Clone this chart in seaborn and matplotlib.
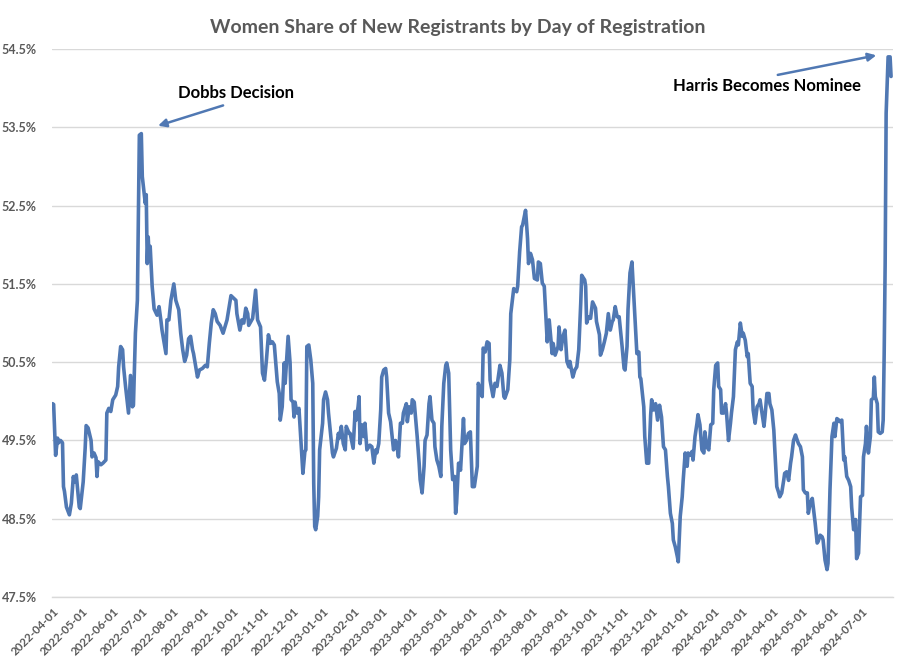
import pandas as pd
import matplotlib
matplotlib.use("Agg")
import matplotlib.pyplot as plt
import matplotlib.dates as mdates
from matplotlib.ticker import FuncFormatter
import seaborn as sns

START = "2022-04-01"

# days after START
day_offset = [
    0, 1, 3, 5, 6, 8, 10, 11, 12, 14, 17, 19,
    21, 22, 24, 27, 28, 31, 33, 34, 36, 39, 40, 42,
    44, 45, 46, 49, 51, 54, 55, 57, 59, 61, 64, 66,
    67, 69, 71, 72, 74, 77, 79, 81, 82, 84, 86, 87,
    88, 90, 91, 93, 94, 95, 96, 97, 98, 99, 101, 103,
    106, 108, 110, 111, 115, 116, 118, 120, 123, 125, 128, 130,
    132, 134, 136, 138, 140, 142, 143, 147, 149, 152, 155, 157,
    159, 161, 163, 165, 167, 170, 173, 177, 181, 186, 187, 190,
    192, 194, 196, 198, 199, 203, 206, 208, 211, 213, 215, 217,
    219, 221, 223, 225, 228, 230, 231, 233, 235, 236, 239, 241,
    242, 244, 245, 246, 248, 250, 252, 254, 256, 257, 258, 260,
    262, 264, 265, 266, 267, 269, 270, 271, 274, 275, 277, 279,
    280, 282, 284, 285, 288, 290, 291, 293, 295, 297, 298, 301,
    302, 305, 307, 308, 310, 311, 312, 314, 316, 317, 319, 322,
    324, 326, 328, 329, 331, 333, 334, 336, 338, 339, 341, 343,
    345, 346, 348, 350, 351, 353, 355, 356, 359, 360, 362, 364,
    365, 367, 370, 372, 373, 375, 377, 378, 380, 382, 383, 385,
    387, 388, 390, 392, 394, 395, 397, 399, 400, 402, 404, 406,
    408, 409, 410, 412, 414, 417, 418, 420, 422, 424, 426, 428,
    431, 432, 434, 436, 437, 439, 441, 443, 444, 447, 449, 451,
    454, 456, 458, 459, 462, 464, 465, 468, 471, 472, 474, 476,
    477, 480, 481, 482, 483, 485, 487, 489, 492, 493, 495, 497,
    499, 501, 502, 504, 507, 508, 510, 513, 514, 516, 518, 520,
    522, 524, 525, 528, 530, 532, 534, 536, 537, 540, 541, 542,
    544, 546, 548, 551, 552, 555, 556, 558, 560, 562, 564, 566,
    568, 569, 571, 573, 575, 578, 580, 581, 583, 584, 586, 588,
    589, 591, 593, 595, 596, 597, 600, 601, 603, 605, 607, 608,
    610, 612, 614, 616, 618, 620, 622, 624, 625, 627, 629, 630,
    632, 634, 635, 637, 639, 640, 642, 644, 645, 647, 649, 650,
    652, 654, 655, 657, 659, 661, 662, 664, 666, 668, 670, 671,
    673, 675, 676, 678, 679, 681, 683, 684, 686, 688, 689, 691,
    693, 695, 696, 698, 700, 701, 703, 705, 706, 708, 710, 711,
    713, 715, 717, 718, 720, 722, 723, 725, 727, 728, 730, 732,
    733, 735, 737, 738, 740, 742, 743, 745, 747, 749, 750, 752,
    754, 755, 757, 759, 761, 762, 764, 766, 767, 769, 771, 772,
    774, 776, 777, 779, 781, 782, 784, 786, 787, 789, 791, 793,
    794, 796, 798, 799, 801, 803, 804, 806, 808, 810, 811, 813,
    815, 816, 818, 820, 822, 823, 825, 826, 828, 830, 831, 833,
    834, 835, 837, 838, 840, 842, 843, 844, 845, 846, 848, 850, 851,
]

# women share of new registrants, percent
women_share = [
    49.97, 49.96, 49.31, 49.53, 49.47, 49.5, 49.47, 48.91, 48.85, 48.65, 48.55, 48.7,
    49.04, 48.97, 49.06, 48.65, 48.63, 48.97, 49.4, 49.69, 49.66, 49.5, 49.29, 49.34,
    49.28, 49.04, 49.23, 49.19, 49.21, 49.25, 49.85, 49.91, 49.87, 50.02, 50.08, 50.19,
    50.44, 50.7, 50.66, 50.44, 50.19, 49.85, 50.33, 49.93, 49.95, 50.87, 51.29, 52.3,
    53.4, 53.42, 52.87, 52.65, 52.53, 52.64, 51.76, 52.1, 51.8, 51.98, 51.47, 51.18,
    51.1, 51.21, 51.02, 50.91, 50.61, 51.04, 51.04, 51.29, 51.5, 51.29, 51.17, 50.87,
    50.66, 50.51, 50.59, 50.8, 50.83, 50.66, 50.61, 50.31, 50.4, 50.42, 50.46, 50.44,
    50.74, 51.0, 51.17, 51.12, 51.02, 50.97, 50.87, 51.04, 51.35, 51.29, 51.12, 50.91,
    51.04, 51.0, 51.19, 51.12, 50.97, 51.06, 51.42, 51.04, 50.95, 50.36, 50.27, 50.53,
    50.85, 50.74, 50.76, 50.72, 50.25, 50.1, 49.76, 49.93, 50.49, 50.23, 50.83, 50.49,
    50.02, 49.99, 49.8, 49.99, 49.85, 49.91, 49.5, 49.08, 49.36, 49.38, 50.7, 50.72,
    50.53, 50.23, 48.95, 48.4, 48.36, 48.53, 48.78, 49.38, 49.72, 50.02, 50.12, 50.02,
    49.85, 49.59, 49.34, 49.29, 49.4, 49.59, 49.53, 49.68, 49.46, 49.38, 49.68, 49.59,
    49.59, 49.4, 49.87, 49.76, 49.93, 50.06, 49.46, 49.7, 49.55, 49.72, 49.38, 49.44,
    49.42, 49.21, 49.38, 49.34, 49.46, 49.89, 50.31, 50.4, 50.42, 50.31, 49.85, 49.74,
    49.5, 49.38, 49.5, 49.38, 49.29, 49.72, 49.72, 49.85, 49.97, 49.74, 49.93, 49.85,
    50.02, 49.99, 49.55, 49.21, 49.0, 48.83, 49.17, 49.5, 49.57, 49.97, 50.06, 49.76,
    49.72, 49.42, 49.25, 49.17, 49.04, 49.68, 50.23, 50.46, 50.49, 50.36, 49.38, 49.0,
    49.04, 48.57, 48.7, 49.21, 49.12, 49.78, 49.46, 49.5, 49.59, 49.61, 48.91, 48.91,
    49.17, 50.23, 50.15, 50.06, 50.68, 50.63, 50.76, 50.74, 50.27, 50.06, 50.23, 50.19,
    50.46, 50.36, 50.06, 50.04, 50.15, 50.53, 51.12, 51.44, 51.4, 51.47, 51.91, 52.23,
    52.25, 52.44, 52.27, 52.08, 51.76, 51.89, 51.81, 51.57, 51.55, 51.78, 51.76, 51.51,
    51.47, 51.0, 50.76, 51.04, 50.61, 50.74, 50.59, 50.7, 50.95, 50.66, 50.83, 50.91,
    50.51, 50.44, 50.51, 50.31, 50.4, 50.44, 50.66, 51.25, 51.61, 51.55, 51.47, 51.0,
    51.08, 51.06, 51.27, 51.19, 51.02, 50.85, 50.59, 50.66, 50.76, 50.87, 51.12, 50.91,
    51.02, 51.04, 51.21, 51.08, 51.08, 50.7, 50.42, 50.4, 50.7, 51.17, 51.64, 51.78,
    51.55, 51.08, 50.61, 50.63, 50.31, 50.29, 49.93, 49.55, 49.21, 49.21, 49.83, 50.02,
    49.89, 49.97, 49.76, 49.95, 49.8, 49.42, 49.38, 49.04, 48.91, 48.57, 48.44, 48.23,
    48.14, 48.02, 47.95, 48.53, 48.78, 48.99, 49.34, 49.17, 49.34, 49.31, 49.36, 49.25,
    49.55, 49.72, 49.83, 49.7, 49.38, 49.34, 49.61, 49.42, 49.38, 49.7, 49.72, 50.15,
    50.46, 50.49, 50.19, 50.15, 49.85, 49.85, 49.97, 49.85, 49.5, 49.72, 49.85, 50.06,
    50.66, 50.76, 50.72, 51.0, 50.83, 50.87, 50.78, 50.57, 50.61, 50.23, 50.19, 49.89,
    49.72, 49.93, 49.97, 50.02, 49.85, 49.68, 49.8, 50.1, 50.1, 49.97, 49.89, 49.63,
    49.38, 48.91, 48.83, 48.78, 48.83, 48.99, 49.08, 49.1, 48.99, 49.21, 49.29, 49.5,
    49.57, 49.53, 49.46, 49.42, 49.29, 48.87, 48.83, 48.83, 48.57, 48.7, 48.76, 48.65,
    48.44, 48.19, 48.21, 48.29, 48.27, 48.23, 47.97, 47.85, 47.93, 48.87, 49.55, 49.72,
    49.55, 49.78, 49.76, 49.74, 49.76, 49.25, 49.29, 49.04, 48.99, 48.91, 48.65, 48.36,
    48.49, 47.99, 48.06, 48.78, 48.8, 49.29, 49.46, 49.68, 49.34, 49.55, 50.02, 50.04,
    50.31, 50.06, 49.97, 49.61, 49.59, 49.61, 49.76, 50.6, 51.76, 53.68, 54.4, 54.4, 54.15,
]

y_ticks = [47.5, 48.5, 49.5, 50.5, 51.5, 52.5, 53.5, 54.5]
month_ticks = pd.date_range("2022-04-01", "2024-07-01", freq="MS")

LINE = "#5078B3"
GREY = "#595959"

sns.set_theme(style="white")
plt.rcParams["font.family"] = ["Lato", "DejaVu Sans"]

df = pd.DataFrame({
    "date": pd.Timestamp(START) + pd.to_timedelta(day_offset, unit="D"),
    "share": women_share,
})

fig = plt.figure(figsize=(9.15, 6.63), dpi=100)
ax = fig.add_axes([0.057, 0.0995, 0.919, 0.8265])

sns.lineplot(data=df, x="date", y="share", ax=ax, color=LINE, linewidth=2.6)

ax.set_ylim(47.5, 54.5)
ax.set_yticks(y_ticks)
ax.yaxis.set_major_formatter(FuncFormatter(lambda v, _: f"{v:.1f}%"))
ax.set_xlim(pd.Timestamp("2022-03-31 12:00"), pd.Timestamp("2024-08-01"))
ax.set_xticks(month_ticks)
ax.xaxis.set_major_formatter(mdates.DateFormatter("%Y-%m-%d"))

ax.grid(axis="y", color="#D9D9D9", linewidth=1.0)
ax.set_axisbelow(True)
for side in ["top", "right", "left"]:
    ax.spines[side].set_visible(False)
ax.spines["bottom"].set_color("#D9D9D9")
ax.spines["bottom"].set_linewidth(1.0)

ax.tick_params(axis="y", length=0, pad=11, labelsize=9, labelcolor=GREY)
ax.tick_params(axis="x", length=4, width=1, color="#D9D9D9", direction="out",
               pad=2, labelsize=8.4, labelcolor=GREY)
for lab in ax.get_yticklabels():
    lab.set_fontweight("bold")
for lab in ax.get_xticklabels():
    lab.set_fontweight("bold")
    lab.set_rotation(45)
    lab.set_ha("right")
    lab.set_rotation_mode("anchor")

ax.set_xlabel("")
ax.set_ylabel("")

fig.suptitle("Women Share of New Registrants by Day of Registration",
             x=0.5, y=0.972, fontsize=14, fontweight="bold", color=GREY)

arrow = dict(arrowstyle="-|>", color=LINE, lw=1.8, mutation_scale=12,
             shrinkA=0, shrinkB=0)
d = lambda s: mdates.date2num(pd.Timestamp(s))

ax.annotate("", xy=(d("2022-07-17"), 53.52), xytext=(d("2022-09-21"), 53.78),
            arrowprops=arrow)
ax.text(d("2022-10-04"), 53.94, "Dobbs Decision", ha="center", va="center",
        fontsize=12, fontweight="bold", color="black")

ax.annotate("", xy=(d("2024-07-15"), 54.42), xytext=(d("2024-04-06"), 54.17),
            arrowprops=arrow)
ax.text(d("2024-03-26"), 54.03, "Harris Becomes Nominee", ha="center",
        va="center", fontsize=12, fontweight="bold", color="black")

fig.savefig("out.png", dpi=100)
